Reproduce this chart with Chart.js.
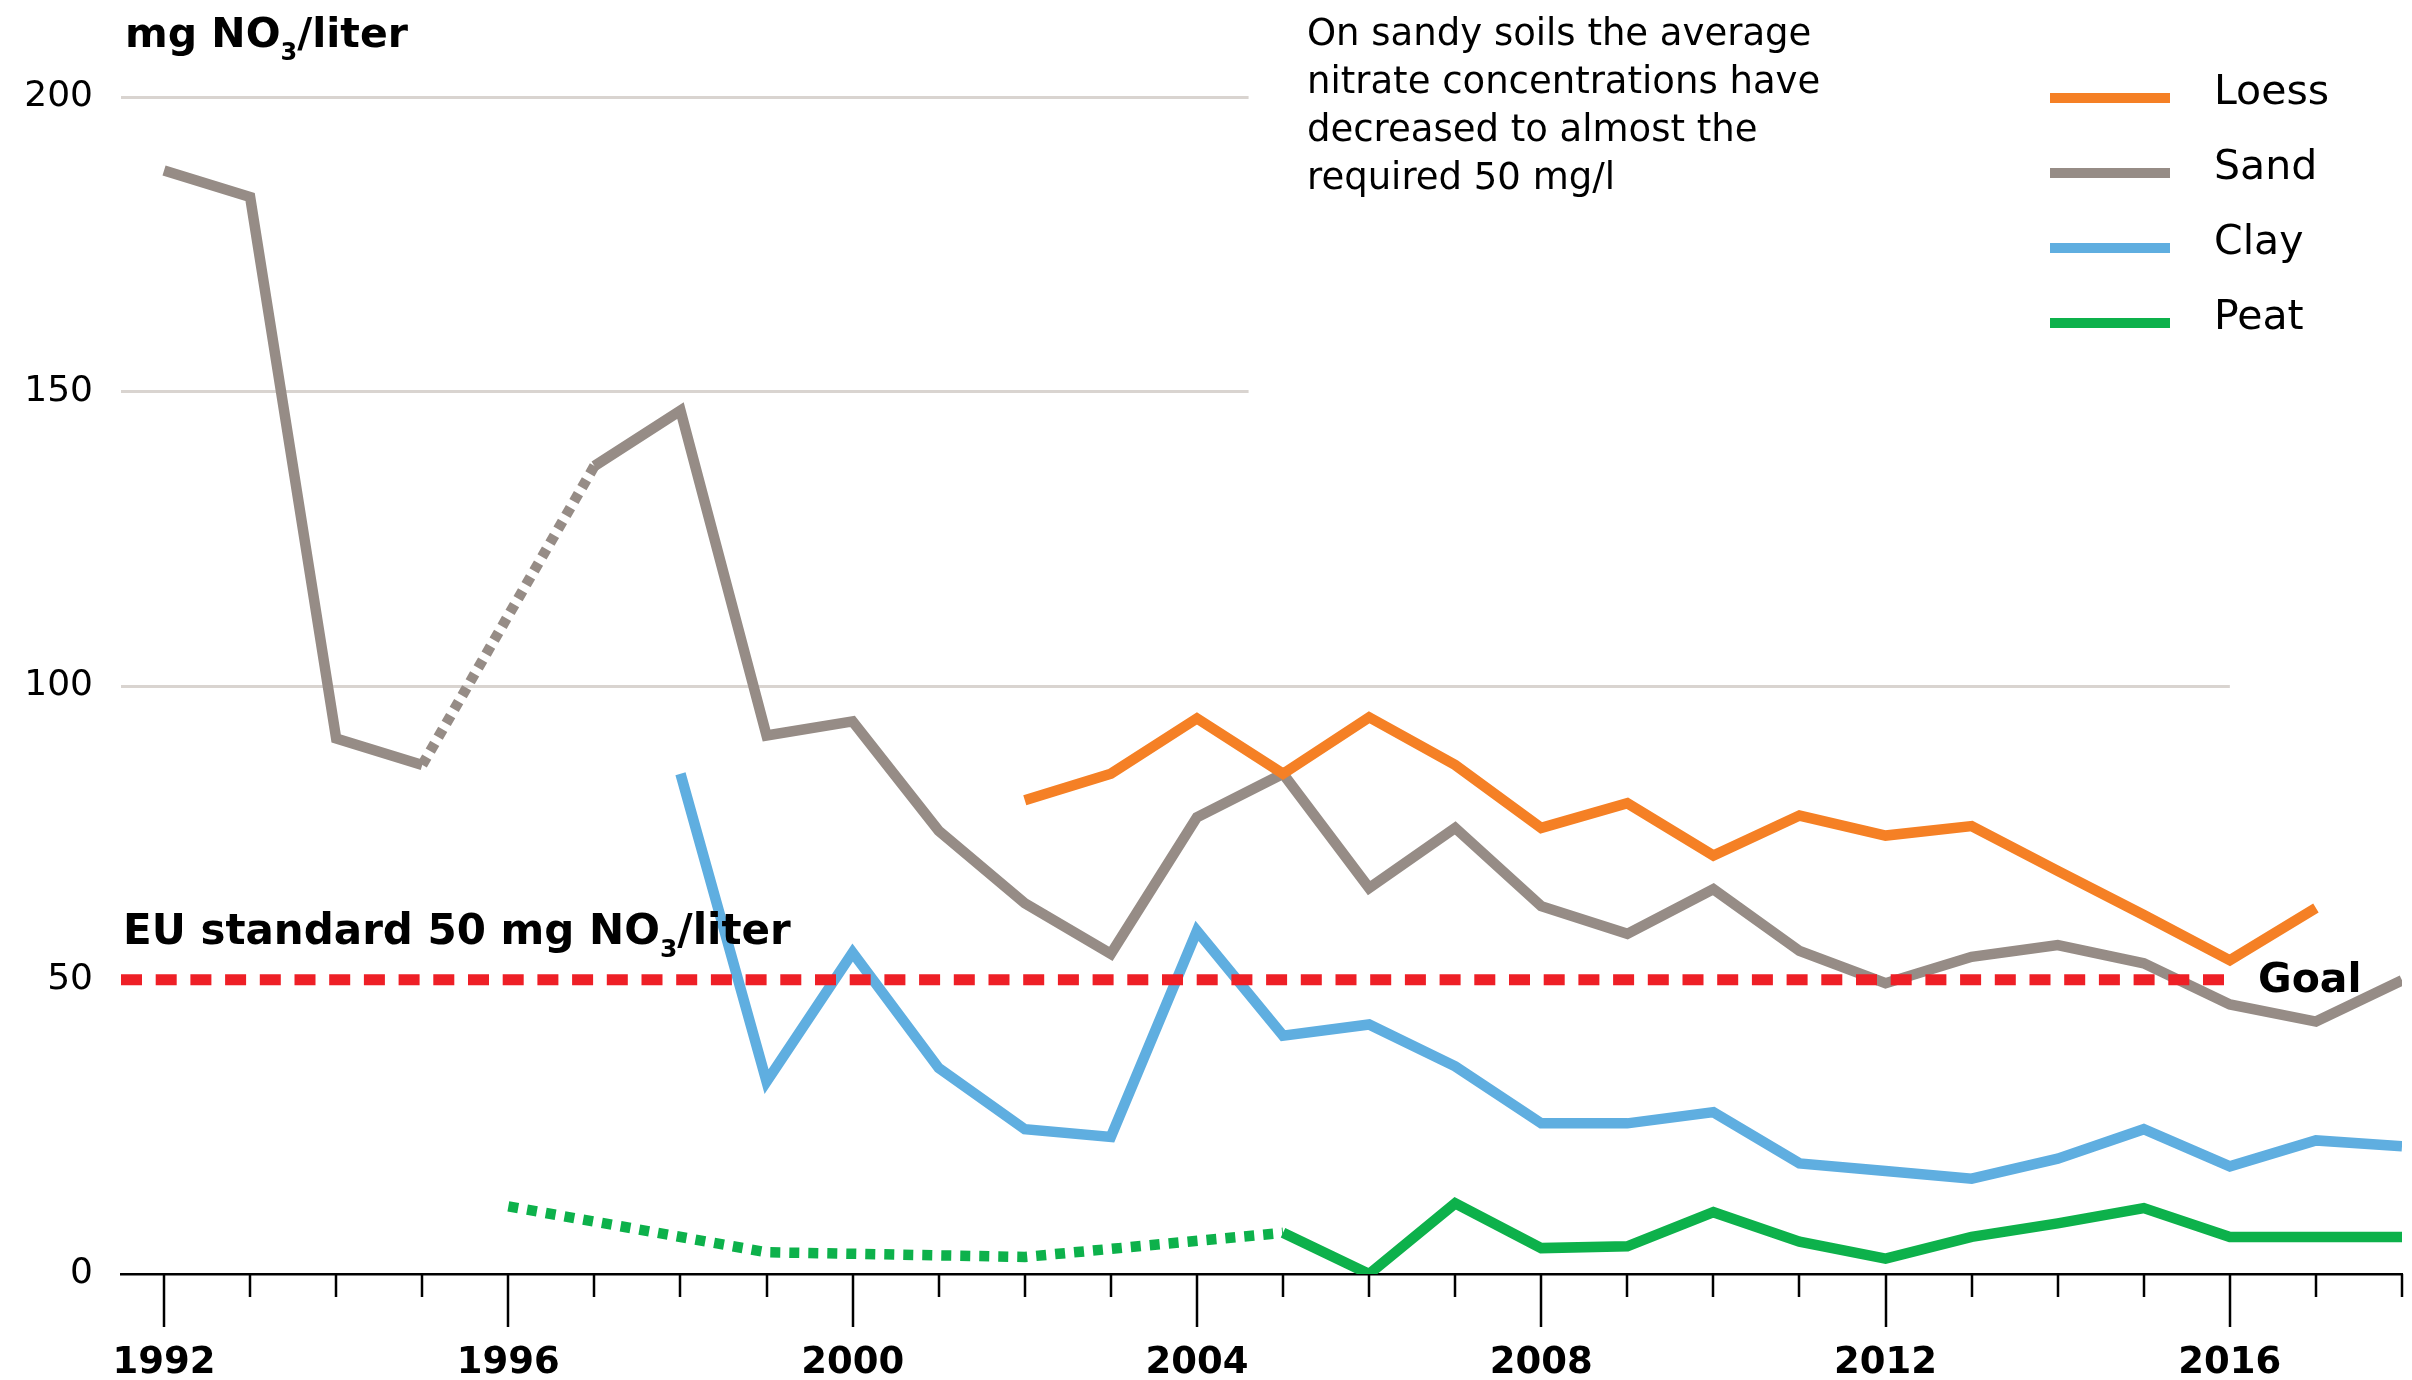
<!DOCTYPE html>
<html>
<head>
<meta charset="utf-8">
<title>Nitrate in groundwater by soil type</title>
<script src="https://cdn.jsdelivr.net/npm/chart.js@4.4.1/dist/chart.umd.min.js"></script>
<style>
  html, body { margin: 0; padding: 0; background: #fff; }
  #wrap { width: 2412px; height: 1380px; }
</style>
</head>
<body>
<div id="wrap"><canvas id="chart" width="2412" height="1380"></canvas></div>
<script>
// Data (mg NO3 per liter), one value per year
const years = [1992, 1993, 1994, 1995, 1996, 1997, 1998, 1999, 2000, 2001, 2002, 2003, 2004, 2005,
               2006, 2007, 2008, 2009, 2010, 2011, 2012, 2013, 2014, 2015, 2016, 2017, 2018];

const loess = [null, null, null, null, null, null, null, null, null, null,
               80.5, 85, 94.4, 85, 94.6, 86.5, 75.8, 80, 71.1, 77.9, 74.5, 76.1, 68.5, 61, 53.3, 62.2, null];
const sand  = [187.5, 183, 91, 86.5, null, 137.3, 146.7, 91.5, 93.9, 75.3, 63, 54.4, 77.6, 85,
               65.6, 75.8, 62.5, 57.8, 65.4, 54.9, 49.4, 53.9, 55.9, 52.8, 45.8, 42.9, 49.9];
const clay  = [null, null, null, null, null, null,
               85, 32.7, 54.6, 35, 24.6, 23.3, 58.3, 40.5, 42.4, 35.3, 25.6, 25.6, 27.5, 18.8, 17.5, 16.2, 19.6, 24.6, 18.3, 22.7, 21.7];
const peat  = [null, null, null, null, 11.5, null, null, 3.7, null, null, 2.9, null, null, 7,
               0, 12, 4.4, 4.7, 10.5, 5.5, 2.6, 6.3, 8.6, 11.2, 6.3, 6.3, 6.3];

const soilNames  = ['Loess', 'Sand', 'Clay', 'Peat'];
const soilSeries = [loess, sand, clay, peat];
const soilColors = ['#f58025', '#968c86', '#5faee0', '#0db14b'];
const gapDashes  = [[10, 8], [9, 7], [10, 8], [10, 9]];

const yTicks = [0, 50, 100, 150, 200];
const goalValue = 50;
const goalYears = [1991.5, 2016];

const note = ['On sandy soils the average', 'nitrate concentrations have',
              'decreased to almost the', 'required 50 mg/l'];

const FONT = "'DejaVu Sans', Verdana, sans-serif";

function toPoints(vals) {
    return years.map((x, i) => ({ x: x, y: vals[i] }));
}

// text with a subscript part, e.g. NO3
function drawParts(ctx, parts, x, y, size, subSize) {
    parts.forEach(p => {
        const sub = p[1];
        ctx.font = 'bold ' + (sub ? subSize : size) + 'px ' + FONT;
        ctx.fillText(p[0], x, sub ? y + 13 : y);
        x += ctx.measureText(p[0]).width;
    });
}

const decor = {
    id: 'decor',
    beforeDatasetsDraw(chart) {
        const ctx = chart.ctx;
        const xs = chart.scales.x, ys = chart.scales.y;
        // gridlines stop where the note box covers them
        const gridEnds = { 200: 2004.6, 150: 2004.6, 100: 2016 };
        ctx.save();
        ctx.strokeStyle = '#d9d4d0';
        ctx.lineWidth = 3;
        Object.keys(gridEnds).forEach(v => {
            const y = Math.round(ys.getPixelForValue(+v)) + 0.5;
            ctx.beginPath();
            ctx.moveTo(xs.left, y);
            ctx.lineTo(xs.getPixelForValue(gridEnds[v]), y);
            ctx.stroke();
        });
        ctx.restore();
    },
    afterDraw(chart) {
        const ctx = chart.ctx;
        const xs = chart.scales.x;
        const base = chart.chartArea.bottom;
        ctx.save();
        // year ticks, long ones under labelled years
        ctx.strokeStyle = '#000';
        ctx.lineWidth = 2.5;
        years.forEach(yr => {
            const x = Math.round(xs.getPixelForValue(yr));
            const len = (yr - 1992) % 4 === 0 ? 53 : 23;
            ctx.beginPath();
            ctx.moveTo(x, base);
            ctx.lineTo(x, base + len);
            ctx.stroke();
        });

        ctx.fillStyle = '#000';
        ctx.textBaseline = 'alphabetic';
        ctx.textAlign = 'left';
        drawParts(ctx, [['mg NO', false], ['3', true], ['/liter', false]], 125, 47, 41, 24);
        drawParts(ctx, [['EU standard 50 mg NO', false], ['3', true], ['/liter', false]], 123, 944, 42, 25);
        ctx.font = 'bold 41px ' + FONT;
        ctx.fillText('Goal', 2258, 992);

        ctx.font = '37px ' + FONT;
        note.forEach((line, i) => ctx.fillText(line, 1307, 45 + i * 48));

        // legend
        soilNames.forEach((name, i) => {
            const y = 98 + i * 75;
            ctx.strokeStyle = soilColors[i];
            ctx.lineWidth = 10;
            ctx.beginPath();
            ctx.moveTo(2050, y);
            ctx.lineTo(2170, y);
            ctx.stroke();
            ctx.fillStyle = '#000';
            ctx.font = '41px ' + FONT;
            ctx.fillText(name, 2214, y + 6);
        });
        ctx.restore();
    }
};

const datasets = [{
    label: 'EU standard',
    data: goalYears.map(x => ({ x: x, y: goalValue })),
    borderColor: '#ee1f26',
    borderWidth: 11,
    borderDash: [21, 13.7],
    borderCapStyle: 'butt',
    pointRadius: 0
}];

soilNames.forEach((name, i) => {
    const dash = gapDashes[i];
    datasets.push({
        label: name,
        data: toPoints(soilSeries[i]),
        borderColor: soilColors[i],
        borderWidth: 10.5,
        borderJoinStyle: 'miter',
        pointRadius: 0,
        spanGaps: true,
        // dotted where years are missing
        segment: {
            borderDash: c => (c.p0.skip || c.p1.skip) ? dash : undefined
        }
    });
});

new Chart(document.getElementById('chart'), {
    type: 'line',
    data: { datasets: datasets },
    options: {
        responsive: false,
        animation: false,
        layout: { padding: { top: 97, right: 10, left: 0, bottom: 0 } },
        plugins: {
            legend: { display: false },
            tooltip: { enabled: false }
        },
        scales: {
            x: {
                type: 'linear',
                min: 1991.5,
                max: 2018,
                afterBuildTicks: s => { s.ticks = years.map(v => ({ value: v })); },
                afterFit: s => { s.height = 106; },
                // tick marks are drawn by the plugin; tickLength only spaces the labels
                grid: { display: false, drawTicks: true, tickLength: 65 },
                border: { display: true, color: '#000', width: 2.5 },
                ticks: {
                    autoSkip: false,
                    maxRotation: 0,
                    padding: 2,
                    color: '#000',
                    font: { family: FONT, size: 37, weight: 'bold' },
                    callback: v => (v - 1992) % 4 === 0 ? String(v) : ''
                }
            },
            y: {
                min: 0,
                max: 200,
                afterBuildTicks: s => { s.ticks = yTicks.map(v => ({ value: v })); },
                afterFit: s => { s.width = 121; },
                grid: { display: false, drawTicks: false },
                border: { display: false },
                ticks: {
                    padding: 28,
                    color: '#000',
                    font: { family: FONT, size: 36 }
                }
            }
        }
    },
    plugins: [decor]
});
</script>
</body>
</html>
